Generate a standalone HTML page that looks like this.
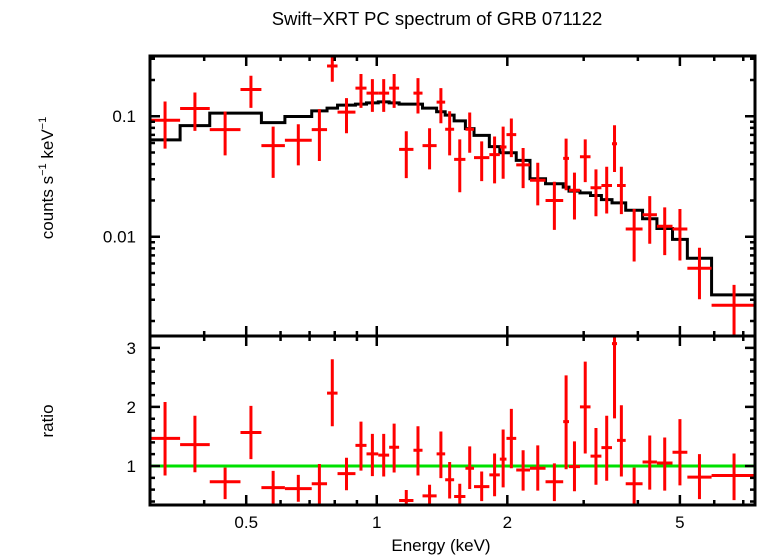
<!DOCTYPE html>
<html><head><meta charset="utf-8"><style>
html,body{margin:0;padding:0;background:#fff;}
svg{display:block;font-family:"Liberation Sans",sans-serif;}
</style></head><body>
<svg id="chart" width="758" height="556" viewBox="0 0 758 556" xmlns="http://www.w3.org/2000/svg">
<text x="437" y="25" font-size="18.5" text-anchor="middle">Swift−XRT PC spectrum of GRB 071122</text>
<text transform="translate(53,178) rotate(-90)" font-size="17" text-anchor="middle">counts s<tspan font-size="11" dy="-7">−1</tspan><tspan dy="7"> keV</tspan><tspan font-size="11" dy="-7">−1</tspan></text>
<text transform="translate(53,421) rotate(-90)" font-size="17" text-anchor="middle">ratio</text>
<text x="441" y="551" font-size="17" text-anchor="middle">Energy (keV)</text>
<g id="g"></g>
</svg>
<script>
const binEdges=[0.30,0.352,0.412,0.485,0.542,0.614,0.708,0.768,0.812,0.893,0.947,1.008,1.068,1.126,1.215,1.275,1.374,1.438,1.508,1.601,1.676,1.818,1.922,1.991,2.097,2.256,2.450,2.691,2.775,2.941,3.111,3.296,3.487,3.581,3.750,4.101,4.426,4.808,5.202,5.916,7.51];
const flux=[0.0926,0.1159,0.0774,0.1668,0.0570,0.0631,0.0774,0.261,0.108,0.171,0.1555,0.1555,0.171,0.0531,0.1555,0.0570,0.1308,0.078,0.0438,0.078,0.0453,0.048,0.0555,0.0704,0.0395,0.0294,0.020,0.0447,0.0243,0.0461,0.0255,0.0266,0.0591,0.0266,0.0116,0.0152,0.0122,0.0116,0.00548,0.0027];
const fluxHi=[0.1325,0.1575,0.1094,0.2168,0.0820,0.0858,0.1144,0.329,0.1413,0.224,0.203,0.203,0.224,0.075,0.207,0.0794,0.171,0.110,0.0643,0.1074,0.0619,0.0678,0.082,0.0957,0.0545,0.0411,0.0286,0.0652,0.034,0.0643,0.0362,0.0381,0.0841,0.0381,0.017,0.0217,0.0175,0.017,0.00809,0.00398];
const fluxLo=[0.0538,0.0755,0.0473,0.1173,0.0308,0.0391,0.0425,0.193,0.0722,0.1173,0.1087,0.1087,0.1173,0.0306,0.1052,0.0362,0.0874,0.0473,0.0234,0.0498,0.0289,0.0277,0.0303,0.0458,0.0253,0.0182,0.0114,0.0243,0.0139,0.0284,0.0148,0.0156,0.0344,0.0154,0.00623,0.00875,0.00703,0.00635,0.00303,0.00148];
const model=[0.0636,0.0836,0.106,0.106,0.0885,0.0994,0.1107,0.1166,0.1236,0.126,0.129,0.1316,0.129,0.126,0.126,0.1166,0.109,0.102,0.0914,0.0789,0.0694,0.0559,0.0498,0.0498,0.043,0.0303,0.0275,0.0258,0.0239,0.0231,0.022,0.0203,0.0191,0.0191,0.0166,0.0141,0.0117,0.0095,0.00663,0.00329];
const ratio=[1.467,1.361,0.733,1.567,0.633,0.617,0.70,2.233,0.872,1.35,1.206,1.183,1.317,0.417,1.267,0.494,1.206,0.767,0.483,0.961,0.65,0.85,1.117,1.467,0.933,0.961,0.733,1.75,0.989,2.0,1.167,1.311,3.072,1.433,0.70,1.067,1.05,1.233,0.811,0.839];
const ratioHi=[2.083,1.85,0.972,2.017,0.917,0.85,1.033,2.806,1.139,1.75,1.544,1.544,1.717,0.594,1.672,0.683,1.583,1.067,0.70,1.333,0.906,1.211,1.617,1.967,1.267,1.35,1.044,2.533,1.417,2.767,1.644,1.85,3.6,2.028,0.972,1.517,1.483,1.794,1.20,1.211];
const ratioLo=[0.839,0.894,0.439,1.117,0.339,0.394,0.339,1.672,0.589,0.922,0.828,0.822,0.889,0.339,0.839,0.339,0.794,0.45,0.339,0.611,0.406,0.489,0.639,0.961,0.583,0.583,0.406,0.944,0.572,1.211,0.683,0.75,1.806,0.822,0.339,0.60,0.583,0.672,0.439,0.422];
const xMajor=[0.5,1,2,5];
const xMajorLabels=["0.5","1","2","5"];
const xMinor=[0.3,0.4,0.6,0.7,0.8,0.9,3,4,6,7];
const yTopMajor=[0.01,0.1];
const yTopLabels=["0.01","0.1"];
const yBotMajor=[1,2,3];
const yBotLabels=["1","2","3"];

const L=150,R=755,T1=56,B1=336,B2=505;
const X0=0.30,X1=7.45;
const xs=e=>L+(Math.log10(e)-Math.log10(X0))/(Math.log10(X1)-Math.log10(X0))*(R-L);
const yTopMin=0.00150,yTopMax=0.316;
const yt=v=>B1-(Math.log10(v)-Math.log10(yTopMin))/(Math.log10(yTopMax)-Math.log10(yTopMin))*(B1-T1);
const rMin=0.34,rMax=3.2;
const yb=v=>B2-(v-rMin)/(rMax-rMin)*(B2-B1);
const NS="http://www.w3.org/2000/svg";
const g=document.getElementById('g');
function mk(tag,at){const e=document.createElementNS(NS,tag);for(const k in at)e.setAttribute(k,at[k]);g.appendChild(e);return e;}
const cl=(v,a,b)=>Math.max(a,Math.min(b,v));

let d='';
for(let i=0;i<model.length;i++){
  const x0=cl(xs(binEdges[i]),L,R),x1=cl(xs(binEdges[i+1]),L,R),y=yt(model[i]);
  d+=(i===0?'M':'L')+x0+','+y+'L'+x1+','+y;
}
const mp=mk('path',{d:d,fill:'none',stroke:'#000','stroke-width':3});



const gl=mk('line',{x1:L,x2:R,y1:yb(1),y2:yb(1),stroke:'#00e000','stroke-width':3});



for(let i=0;i<flux.length;i++){
  const lo=binEdges[i],hi=binEdges[i+1],c=Math.sqrt(lo*hi);
  const xc=xs(c),xl=cl(xs(lo),L,R),xr=cl(xs(hi),L,R);
  const p=mk('path',{d:`M${xl},${yt(flux[i])}L${xr},${yt(flux[i])}M${xc},${cl(yt(fluxHi[i]),T1,B1)}L${xc},${cl(yt(fluxLo[i]),T1,B1)}`,stroke:'#ff0000','stroke-width':3,fill:'none'});
  
  
  const q=mk('path',{d:`M${xl},${yb(ratio[i])}L${xr},${yb(ratio[i])}M${xc},${cl(yb(ratioHi[i]),B1,B2)}L${xc},${cl(yb(ratioLo[i]),B1,B2)}`,stroke:'#ff0000','stroke-width':3,fill:'none'});
  
  
}

const f1=mk('rect',{x:L,y:T1,width:R-L,height:B1-T1,fill:'none',stroke:'#000','stroke-width':3});


const f2=mk('rect',{x:L,y:B1,width:R-L,height:B2-B1,fill:'none',stroke:'#000','stroke-width':3});



let td='';
xMajor.forEach(v=>{const x=xs(v);td+=`M${x},${T1}v10M${x},${B1}v-10M${x},${B1}v10M${x},${B2}v-10`;});
xMinor.forEach(v=>{const x=xs(v);td+=`M${x},${T1}v5M${x},${B1}v-5M${x},${B1}v5M${x},${B2}v-5`;});
for(let dec=-3;dec<0;dec++)for(let m=1;m<10;m++){const v=m*Math.pow(10,dec);if(v<yTopMin||v>yTopMax)continue;const y=yt(v);const len=m===1?10:5;td+=`M${L},${y}h${len}M${R},${y}h${-len}`;}
for(let v=0.4;v<=3.2;v+=0.2){const y=yb(v);const maj=Math.abs(v-Math.round(v))<0.01;const len=maj?10:5;td+=`M${L},${y}h${len}M${R},${y}h${-len}`;}
const tk=mk('path',{d:td,stroke:'#000','stroke-width':2.5,fill:'none'});



xMajor.forEach((v,i)=>{const t=mk('text',{x:xs(v),y:528,'font-size':17,'text-anchor':'middle'});t.textContent=xMajorLabels[i];

});
yTopMajor.forEach((v,i)=>{const t=mk('text',{x:136,y:yt(v)+6,'font-size':17,'text-anchor':'end'});t.textContent=yTopLabels[i];

});
yBotMajor.forEach((v,i)=>{const t=mk('text',{x:136,y:yb(v)+6,'font-size':17,'text-anchor':'end'});t.textContent=yBotLabels[i];

});
</script>
</body></html>
